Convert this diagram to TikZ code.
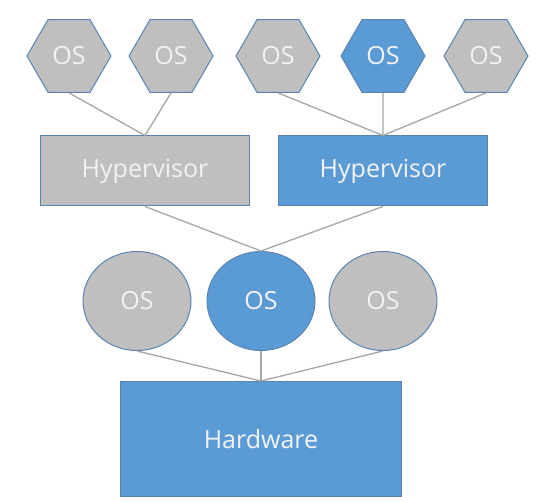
\documentclass[tikz,border=0pt]{standalone}
\usepackage{fontspec}
\setmainfont{Open Sans}
\usetikzlibrary{shapes.geometric,positioning}
\definecolor{osgray}{HTML}{BFBFBF}
\definecolor{osblue}{HTML}{5B9BD5}
\definecolor{edgeblue}{HTML}{5A84B0}
\definecolor{linkgray}{HTML}{A6A6A6}
\definecolor{labelwhite}{HTML}{F2F2F2}

\begin{document}
\begin{tikzpicture}[
 x=1pt, y=-1pt,
 hexos/.style={regular polygon, regular polygon sides=6, draw=edgeblue, line width=1pt, fill=#1, minimum size=84pt, inner sep=0pt, text=labelwhite, font=\fontsize{25}{28}\selectfont},
 ellos/.style={ellipse, draw=edgeblue, line width=1pt, fill=#1, minimum width=108pt, minimum height=99pt, inner sep=0pt, text=labelwhite, font=\fontsize{25}{28}\selectfont},
 hvbox/.style={rectangle, draw=edgeblue, line width=1pt, fill=#1, minimum width=209pt, minimum height=70pt, text=labelwhite, font=\fontsize{25}{28}\selectfont},
 link/.style={draw=linkgray, line width=1.3pt},
]
\useasboundingbox (0,0) rectangle (555,502);

% guests on the hypervisors
\node[hexos=osgray] (h1) at (69,56) {OS};
\node[hexos=osgray] (h2) at (171,56) {OS};
\node[hexos=osgray] (h3) at (278,56) {OS};
\node[hexos=osblue] (h4) at (383,56) {OS};
\node[hexos=osgray] (h5) at (486,56) {OS};

% hypervisors
\node[hvbox=osgray] (hv1) at (145,171) {Hypervisor};
\node[hvbox=osblue] (hv2) at (383,171) {Hypervisor};

% operating systems on the hardware
\node[ellos=osgray] (c1) at (137,301) {OS};
\node[ellos=osblue] (c2) at (261,301) {OS};
\node[ellos=osgray] (c3) at (383,301) {OS};

% hardware
\node[rectangle, draw=edgeblue, line width=1pt, fill=osblue, minimum width=281pt, minimum height=115pt, text=labelwhite, font=\fontsize{25}{28}\selectfont] (hw) at (261,439) {Hardware};

% links
\draw[link] (h1.south) -- (hv1.north);
\draw[link] (h2.south) -- (hv1.north);
\draw[link] (h3.south) -- (hv2.north);
\draw[link] (h4.south) -- (hv2.north);
\draw[link] (h5.south) -- (hv2.north);
\draw[link] (hv1.south) -- (c2.north);
\draw[link] (hv2.south) -- (c2.north);
\draw[link] (c1.south) -- (hw.north);
\draw[link] (c2.south) -- (hw.north);
\draw[link] (c3.south) -- (hw.north);

\end{tikzpicture}
\end{document}
